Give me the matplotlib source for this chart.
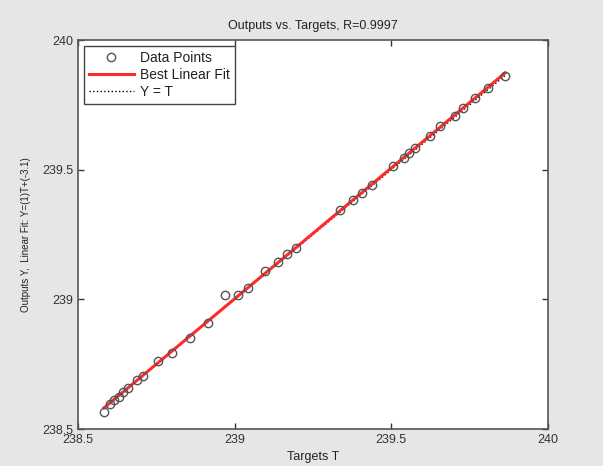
import numpy as np
import matplotlib
matplotlib.use("Agg")
import matplotlib.pyplot as plt

targets = [238.583, 238.602, 238.615, 238.631, 238.644, 238.660, 238.688, 238.707,
           238.755, 238.800, 238.857, 238.915, 238.969, 239.011, 239.043, 239.097,
           239.138, 239.167, 239.196, 239.336, 239.378, 239.406, 239.438, 239.505,
           239.541, 239.556, 239.576, 239.623, 239.655, 239.703, 239.729, 239.767,
           239.809, 239.863]
outputs = [238.566, 238.596, 238.612, 238.623, 238.643, 238.658, 238.689, 238.704,
           238.762, 238.793, 238.851, 238.909, 239.017, 239.017, 239.044, 239.109,
           239.144, 239.175, 239.198, 239.345, 239.383, 239.410, 239.441, 239.514,
           239.545, 239.564, 239.584, 239.630, 239.669, 239.707, 239.738, 239.777,
           239.815, 239.861]
axis_limits = [238.5, 240]
ticks = [238.5, 239, 239.5, 240]
tick_labels = ["238.5", "239", "239.5", "240"]

plt.rcParams['font.family'] = ['Liberation Sans', 'DejaVu Sans']

T = np.array(targets)
Y = np.array(outputs)
slope, intercept = np.polyfit(T, Y, 1)

fig = plt.figure(figsize=(6.03, 4.66), dpi=100, facecolor='#e6e6e6')
ax = fig.add_axes([78/603, 1-429/466, (548-78)/603, (429-40)/466])
ax.set_facecolor('white')

tfit = np.array([T.min(), T.max()])
ax.plot(T, Y, 'o', mfc='none', mec='#555555', ms=6, mew=1.0, label='Data Points', zorder=3)
ax.plot(tfit, slope*tfit + intercept, '-', color='#ff2a2a', lw=2.2, label='Best Linear Fit', zorder=2)
ax.plot(tfit, tfit, ':', color='black', lw=1.0, label='Y = T', zorder=1)

ax.set_xlim(axis_limits)
ax.set_ylim(axis_limits)
ax.set_xticks(ticks)
ax.set_xticklabels(tick_labels)
ax.set_yticks(ticks)
ax.set_yticklabels(tick_labels)
ax.tick_params(direction='in', length=4, width=1, colors='#333333', labelsize=9,
               top=True, right=True, labelcolor='#333333')
for s in ax.spines.values():
    s.set_color('#555555')
    s.set_linewidth(1.2)

ax.set_title('Outputs vs. Targets, R=0.9997', fontsize=9, color='#222222', pad=8)
ax.set_xlabel('Targets T', fontsize=9, color='#222222', labelpad=4)
ax.set_ylabel('Outputs Y,  Linear Fit: Y=(1)T+(-3.1)', fontsize=7, color='#222222', labelpad=8)

leg = ax.legend(loc='upper left', fontsize=10, frameon=True, fancybox=False,
                edgecolor='#444444', framealpha=1, borderpad=0.35, labelspacing=0.22,
                handlelength=3.2, handletextpad=0.5, bbox_to_anchor=(0.0, 1.0),
                borderaxespad=0.45)
leg.get_frame().set_linewidth(1.0)
for t in leg.get_texts():
    t.set_color('#222222')

fig.savefig('out.png', dpi=100, facecolor=fig.get_facecolor())
